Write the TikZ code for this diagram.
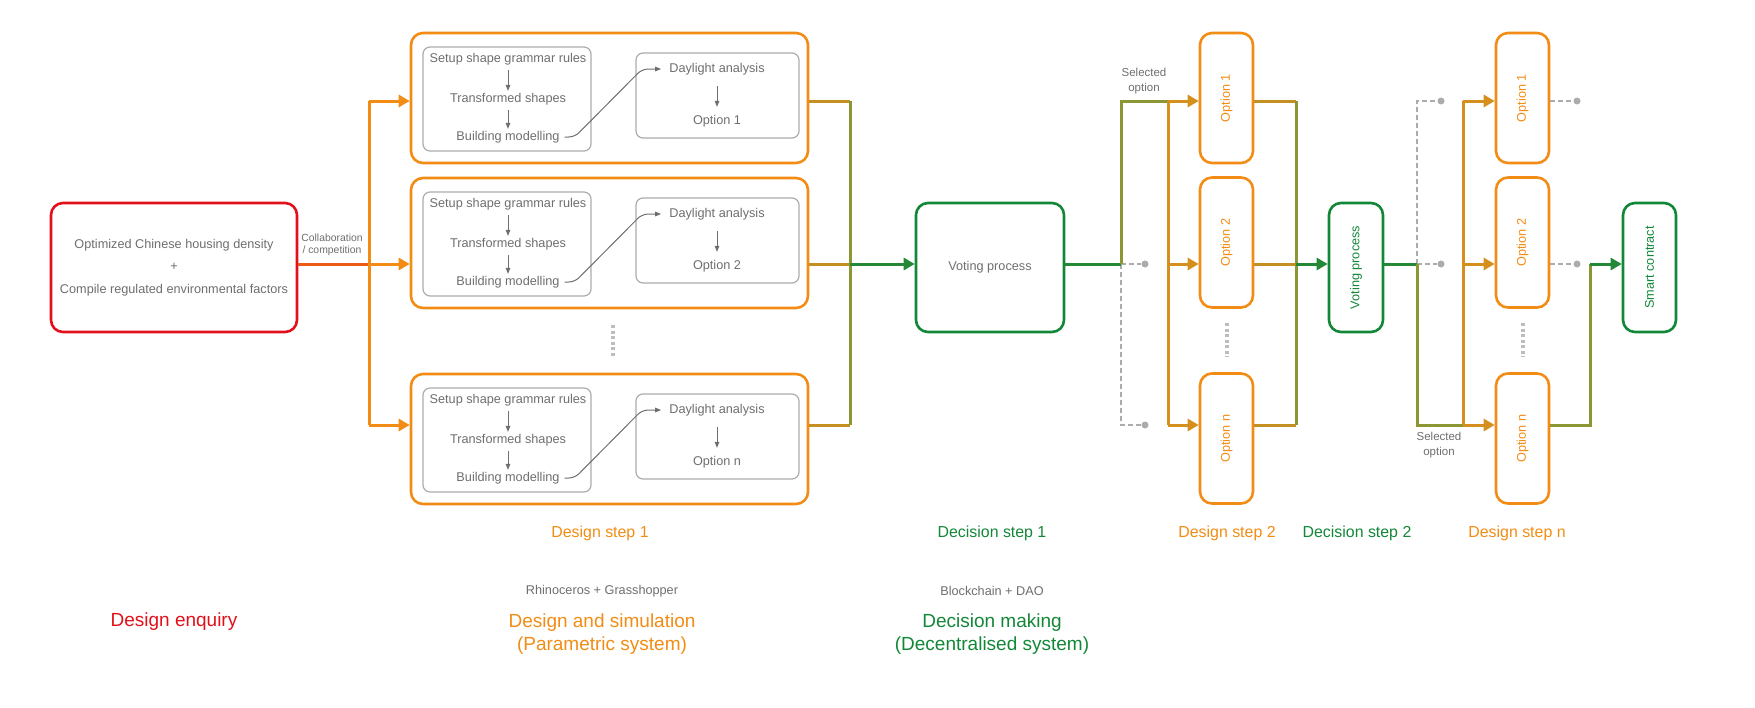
\documentclass[tikz,border=0pt]{standalone}
\usepackage{fontspec}
\setmainfont{Liberation Sans}
\usepackage{graphicx}
\usetikzlibrary{arrows.meta, calc}

\definecolor{enqred}{RGB}{226,16,26}
\definecolor{desorange}{RGB}{242,140,20}
\definecolor{decgreen}{RGB}{18,135,55}
\definecolor{midolive}{RGB}{140,150,50}
\definecolor{txtgray}{RGB}{110,110,110}
\definecolor{boxgray}{RGB}{172,172,172}

\tikzset{
  enqbox/.style={draw=enqred, line width=2.6pt, rounded corners=12pt, align=center,
    text=txtgray, font=\fontsize{12.7}{22.5}\selectfont},
  desbox/.style={draw=desorange, line width=2.6pt, rounded corners=12pt,
    minimum width=397pt, minimum height=130pt},
  graybox/.style={draw=boxgray, line width=1.2pt, rounded corners=7pt},
  optbox/.style={draw=desorange, line width=2.6pt, rounded corners=12pt, text=desorange,
    minimum width=53pt, minimum height=130pt, font=\fontsize{12.7}{15}\selectfont},
  decbox/.style={draw=decgreen, line width=2.6pt, rounded corners=12pt,
    minimum height=129pt, font=\fontsize{12.7}{15}\selectfont},
  intext/.style={text=txtgray, inner sep=1pt, font=\fontsize{12.7}{15}\selectfont},
  smalltext/.style={text=txtgray, align=center, inner sep=1pt, font=\fontsize{10.4}{12}\selectfont},
  seltext/.style={text=txtgray, align=center, inner sep=1pt, font=\fontsize{11.5}{15}\selectfont},
  labmid/.style={font=\fontsize{15.9}{19}\selectfont},
  labbig/.style={align=center, font=\fontsize{19}{23}\selectfont},
  garrow/.style={draw=txtgray, line width=1pt, -{Triangle[length=6pt,width=4.5pt]}},
  tip/.style={-{Triangle[length=11pt,width=12pt]}},
  lnred/.style={draw=enqred!40!desorange, line width=3pt},
  lnorange/.style={draw=desorange, line width=3pt},
  lnmix/.style={draw=desorange!55!midolive, line width=3pt},
  lnolive/.style={draw=midolive, line width=3pt},
  lngold/.style={draw=desorange!72!midolive, line width=3pt},
  lngreen/.style={draw=decgreen!85!midolive, line width=3pt},
  dashline/.style={draw=boxgray, line width=1.5pt, dash pattern=on 5pt off 3pt},
  gdot/.style={circle, fill=boxgray, inner sep=0pt, minimum size=7pt},
  vdots/.style={draw=boxgray!80, line width=3.5pt, dash pattern=on 3pt off 2.5pt}
}

\begin{document}
\begin{tikzpicture}[x=1pt, y=-1pt]
  \useasboundingbox (0,0) rectangle (1755,707);

  % rows of the connectors
  \coordinate (y1) at (0,101);
  \coordinate (y2) at (0,264);
  \coordinate (yn) at (0,425);

  % design enquiry
  \node[enqbox, minimum width=246pt, minimum height=129pt] (enq) at (174,267.5)
    {Optimized Chinese housing density\\+\\Compile regulated environmental factors};
  \node[smalltext] (collab) at (332,245) {Collaboration\\/ competition};

  % design step 1
  \foreach \k/\off in {1/0, 2/145, n/341} {
    \node[desbox] (d\k) at (609.5,98+\off) {};
    \node[graybox, minimum width=168pt, minimum height=104pt] (g\k) at (507,99+\off) {};
    \node[graybox, minimum width=163pt, minimum height=85pt] (h\k) at (717.5,95.5+\off) {};
    \node[intext] (s\k) at (508,59+\off) {Setup shape grammar rules};
    \node[intext] (t\k) at (508,99+\off) {Transformed shapes};
    \node[intext] (b\k) at (508,137+\off) {Building modelling};
    \node[intext] (l\k) at (717,69+\off) {Daylight analysis};
    \node[intext] (o\k) at (717,121+\off) {Option \k};
    \draw[garrow, shorten <=4pt, shorten >=1pt] (s\k) -- (t\k);
    \draw[garrow, shorten <=4pt, shorten >=1pt] (t\k) -- (b\k);
    \draw[garrow, shorten <=10pt, shorten >=7pt] (l\k) -- (o\k);
    \draw[garrow, rounded corners=6pt, shorten >=7pt]
      ($(b\k.east)+(4,0)$) -- ++(10,0) -- ($(l\k.west)+(-26,0)$) -- (l\k.west);
  }
  \draw[vdots] (613,325) -- (613,357);

  \coordinate (jL) at (369,264);
  \draw[lnred] (enq.east |- y2) -- (jL);
  \draw[lnorange] (jL |- y1) -- (jL |- yn);
  \draw[lnorange, tip] (jL |- y1) -- (d1.west |- y1);
  \draw[lnorange, tip] (jL) -- (d2.west |- y2);
  \draw[lnorange, tip] (jL |- yn) -- (dn.west |- yn);

  % decision step 1
  \node[decbox, text=txtgray, minimum width=148pt] (vote1) at (990,267.5) {Voting process};

  \coordinate (jR) at (850,264);
  \draw[lnmix] (d1.east |- y1) -- (jR |- y1);
  \draw[lnmix] (d2.east |- y2) -- (jR);
  \draw[lnmix] (dn.east |- yn) -- (jR |- yn);
  \draw[lnolive] (jR |- y1) -- (jR |- yn);
  \draw[lngreen, tip] (jR) -- (vote1.west |- y2);

  % design step 2
  \foreach \k/\yc in {1/98, 2/242.5, n/438.5}
    \node[optbox] (p\k) at (1226.5,\yc) {\rotatebox{90}{Option \k}};
  \draw[vdots] (1227,323) -- (1227,357);

  \coordinate (sA) at (1121,264);
  \coordinate (bA) at (1168,264);
  \node[gdot] (dA2) at (1145,264) {};
  \node[gdot] (dAn) at (1145,425) {};
  \draw[dashline] (sA) -- (dA2);
  \draw[dashline] (sA) -- (sA |- yn) -- (dAn);
  \draw[lngreen] (vote1.east |- y2) -- (sA);
  \draw[lnolive] (sA) -- (sA |- y1) -- (bA |- y1);
  \draw[lngold] (bA |- y1) -- (bA |- yn);
  \draw[lngold, tip] (bA |- y1) -- (p1.west |- y1);
  \draw[lngold, tip] (bA) -- (p2.west |- y2);
  \draw[lngold, tip] (bA |- yn) -- (pn.west |- yn);
  \node[seltext] (selA) at (1144,81.5) {Selected\\option};

  % decision step 2
  \node[decbox, text=decgreen, minimum width=54pt] (vote2) at (1356,267.5) {\rotatebox{90}{Voting process}};

  \coordinate (jP) at (1296,264);
  \draw[lnmix] (p1.east |- y1) -- (jP |- y1);
  \draw[lnmix] (p2.east |- y2) -- (jP);
  \draw[lnmix] (pn.east |- yn) -- (jP |- yn);
  \draw[lnolive] (jP |- y1) -- (jP |- yn);
  \draw[lngreen, tip] (jP) -- (vote2.west |- y2);

  % design step n
  \foreach \k/\yc in {1/98, 2/242.5, n/438.5}
    \node[optbox] (q\k) at (1522.5,\yc) {\rotatebox{90}{Option \k}};
  \draw[vdots] (1523,323) -- (1523,357);

  \coordinate (sB) at (1417,264);
  \coordinate (bB) at (1463,425);
  \node[gdot] (dB1) at (1441,101) {};
  \node[gdot] (dB2) at (1441,264) {};
  \draw[dashline] (sB) -- (sB |- y1) -- (dB1);
  \draw[dashline] (sB) -- (dB2);
  \draw[lngreen] (vote2.east |- y2) -- (sB);
  \draw[lnolive] (sB) -- (sB |- yn) -- (bB);
  \draw[lngold] (bB) -- (bB |- y1);
  \draw[lngold, tip] (bB |- y1) -- (q1.west |- y1);
  \draw[lngold, tip] (bB |- y2) -- (q2.west |- y2);
  \draw[lngold, tip] (bB) -- (qn.west |- yn);
  \node[seltext] (selB) at (1439,445.5) {Selected\\option};

  \node[gdot] (dC1) at (1577,101) {};
  \node[gdot] (dC2) at (1577,264) {};
  \draw[dashline] (q1.east |- y1) -- (dC1);
  \draw[dashline] (q2.east |- y2) -- (dC2);

  % smart contract
  \node[decbox, text=decgreen, minimum width=53pt] (smart) at (1649.5,267.5) {\rotatebox{90}{Smart contract}};
  \coordinate (jS) at (1590,264);
  \draw[lnolive] (qn.east |- yn) -- (jS |- yn) -- (jS);
  \draw[lngreen, tip] (jS) -- (smart.west |- y2);

  % step labels
  \node[labmid, text=desorange] (ds1) at (600,533) {Design step 1};
  \node[labmid, text=decgreen] (dc1) at (992,533) {Decision step 1};
  \node[labmid, text=desorange] (ds2) at (1227,533) {Design step 2};
  \node[labmid, text=decgreen] (dc2) at (1357,533) {Decision step 2};
  \node[labmid, text=desorange] (dsn) at (1517,533) {Design step n};

  % system labels
  \node[intext] (rhino) at (602,591) {Rhinoceros + Grasshopper};
  \node[intext] (chain) at (992,591) {Blockchain + DAO};
  \node[labbig, text=enqred] (enqlab) at (174,622) {Design enquiry};
  \node[labbig, text=desorange] (simlab) at (602,634.5) {Design and simulation\\(Parametric system)};
  \node[labbig, text=decgreen] (declab) at (992,634.5) {Decision making\\(Decentralised system)};
\end{tikzpicture}
\end{document}
